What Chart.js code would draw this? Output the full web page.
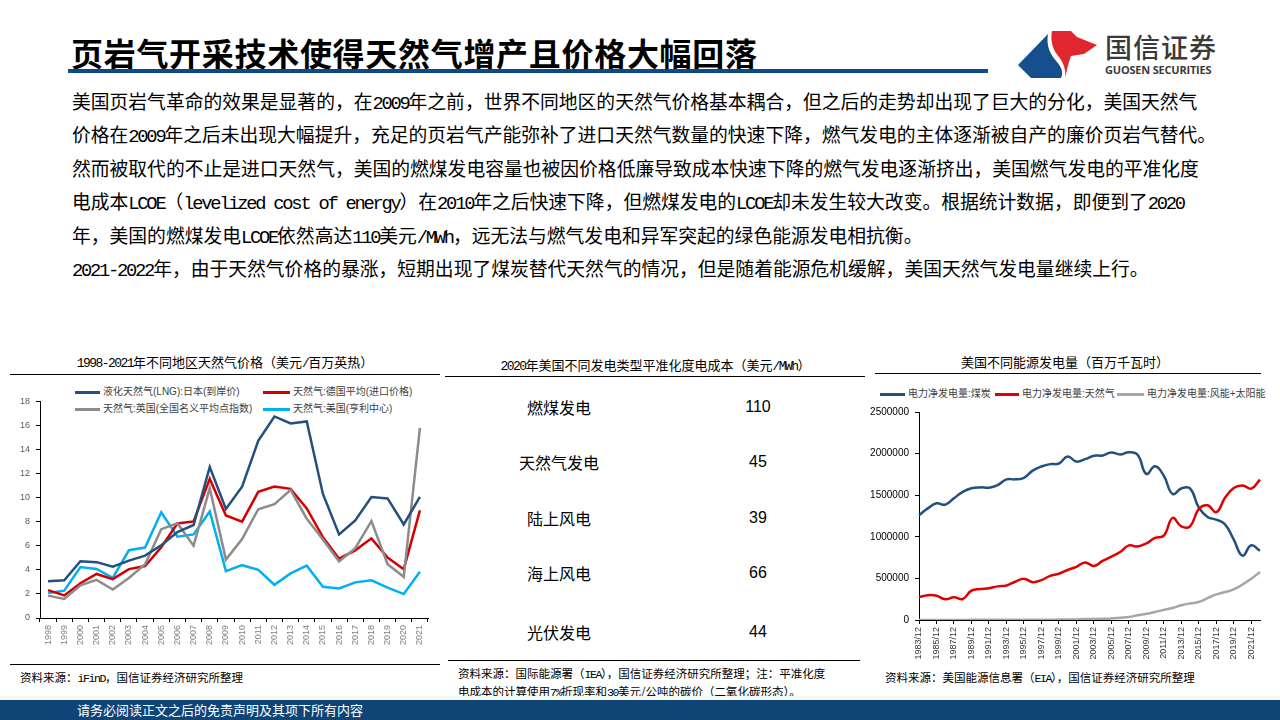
<!DOCTYPE html>
<html lang="zh-CN">
<head>
<meta charset="utf-8">
<title>页岩气开采技术使得天然气增产且价格大幅回落</title>
<script src="https://cdn.jsdelivr.net/npm/chart.js@4.4.1/dist/chart.umd.min.js"></script>
<style>
  html, body { margin: 0; padding: 0; background: #fff; }
  body { width: 1280px; height: 720px; position: relative; overflow: hidden;
         font-family: "Noto Sans CJK SC", sans-serif; color: #000; }
  .abs { position: absolute; white-space: nowrap; }
  .m { font-family: "Liberation Mono", monospace; letter-spacing: -0.12em; }
  .hr { position: absolute; height: 1px; background: #000; }
  .para div { height: 33.4px; line-height: 33.4px; font-size: 18.8px; white-space: nowrap; }
  .ctitle { position: absolute; font-size: 13px; line-height: 16px; text-align: center; white-space: nowrap; }
  .src { position: absolute; font-size: 11.5px; line-height: 16px; white-space: nowrap; }
  .legend { position: absolute; font-family: "Liberation Sans", "Noto Sans CJK SC", sans-serif;
            font-size: 10px; line-height: 14px; white-space: nowrap; }
  .legend .sw { position: absolute; height: 3px; }
  .legend .tx { position: absolute; }
  canvas { position: absolute; }
  .row { position: absolute; font-size: 16px; line-height: 20px; text-align: center; }
</style>
</head>
<body>

<div class="abs" style="left:71px; top:32px; font-size:32px; line-height:40px; font-weight:700; letter-spacing:0.7px;">页岩气开采技术使得天然气增产且价格大幅回落</div>
<div class="abs" style="left:68px; top:69px; width:920px; height:4px; background:#0e4a85;"></div>

<svg class="abs" style="left:0; top:0;" width="1280" height="90">
  <path d="M1018,65 L1048,34 C1046,46 1050,54 1057,62 C1063,69 1063,74 1061,78 L1031,78 Z" fill="#174f8e"/>
  <path d="M1052,31 L1071,31 L1077,37 L1097,45 L1084,54 L1071,56 C1068,63 1067,71 1065,78 C1066,70 1064,64 1059,57 C1053,50 1050,41 1052,31 Z" fill="#e0262f"/>
  <text x="1105" y="58" font-family="Noto Sans CJK SC" font-size="27" font-weight="500" fill="#3a3a3a" letter-spacing="1">国信证券</text>
  <text x="1105" y="74" font-family="Open Sans, Liberation Sans" font-size="11" font-weight="700" fill="#3a3a3a" letter-spacing="-0.2">GUOSEN SECURITIES</text>
</svg>

<div class="abs para" id="para" style="left:72px; top:84px;"></div>

<!-- left panel -->
<div class="ctitle" id="t1" style="left:10px; width:430px; top:354px;"></div>
<div class="hr" style="left:10px; top:374px; width:430px;"></div>
<div class="legend" id="leg1" style="left:0; top:0;"></div>
<canvas id="priceChart" width="425" height="272" style="left:10px; top:390px;"></canvas>
<div class="hr" style="left:10px; top:664px; width:430px;"></div>
<div class="src" style="left:20px; top:669px;">资料来源：<span class="m">iFinD</span>，国信证券经济研究所整理</div>

<!-- middle panel -->
<div class="ctitle" id="t2" style="left:448px; width:415px; top:357px;"></div>
<div class="hr" style="left:445px; top:376px; width:420px;"></div>
<div id="lcoeTable"></div>
<div class="hr" style="left:448px; top:660px; width:412px;"></div>
<div class="src" style="left:458px; top:665px; line-height:16px;">资料来源：国际能源署（<span class="m">IEA</span>），国信证券经济研究所整理；注：平准化度<br>电成本的计算使用<span class="m">7%</span>折现率和<span class="m">30</span>美元/公吨的碳价（二氧化碳形态）。</div>

<!-- right panel -->
<div class="ctitle" id="t3" style="left:870px; width:390px; top:354px;"></div>
<div class="hr" style="left:875px; top:373px; width:386px;"></div>
<div class="legend" id="leg3" style="left:0; top:0;"></div>
<canvas id="genChart" width="400" height="265" style="left:870px; top:400px;"></canvas>
<div class="src" style="left:885px; top:669px;">资料来源：美国能源信息署（<span class="m">EIA</span>），国信证券经济研究所整理</div>

<div class="abs" style="left:0; top:696px; width:1280px; height:4px; background:#f3f9ee;"></div>
<div class="abs" style="left:0; top:700px; width:1280px; height:20px; background:#0f4477;"></div>
<div class="abs" style="left:77px; top:701px; font-size:13px; line-height:18px; color:#fff;">请务必阅读正文之后的免责声明及其项下所有内容</div>

<script>
// ---- text ----
const paraLines = [
  "美国页岩气革命的效果是显著的，在2009年之前，世界不同地区的天然气价格基本耦合，但之后的走势却出现了巨大的分化，美国天然气",
  "价格在2009年之后未出现大幅提升，充足的页岩气产能弥补了进口天然气数量的快速下降，燃气发电的主体逐渐被自产的廉价页岩气替代。",
  "然而被取代的不止是进口天然气，美国的燃煤发电容量也被因价格低廉导致成本快速下降的燃气发电逐渐挤出，美国燃气发电的平准化度",
  "电成本LCOE（levelized cost of energy）在2010年之后快速下降，但燃煤发电的LCOE却未发生较大改变。根据统计数据，即便到了2020",
  "年，美国的燃煤发电LCOE依然高达110美元/MWh，远无法与燃气发电和异军突起的绿色能源发电相抗衡。",
  "2021-2022年，由于天然气价格的暴涨，短期出现了煤炭替代天然气的情况，但是随着能源危机缓解，美国天然气发电量继续上行。"
];
const priceTitle = "1998-2021年不同地区天然气价格（美元/百万英热）";
const lcoeTitle = "2020年美国不同发电类型平准化度电成本（美元/MWh）";
const genTitle = "美国不同能源发电量（百万千瓦时）";

// ---- chart 1: gas prices, USD/MMBtu ----
const priceYears = ["1998","1999","2000","2001","2002","2003","2004","2005","2006","2007","2008","2009",
                    "2010","2011","2012","2013","2014","2015","2016","2017","2018","2019","2020","2021"];
const lngJapan  = [3.05,3.14,4.72,4.64,4.27,4.77,5.18,6.05,7.14,7.73,12.55,9.06,10.91,14.73,16.75,16.17,16.33,10.31,6.94,8.10,10.05,9.94,7.77,10.07];
const germany   = [2.32,1.88,2.89,3.66,3.23,4.06,4.32,5.88,7.85,8.03,11.56,8.52,8.01,10.48,10.93,10.73,9.11,6.72,4.93,5.62,6.62,5.03,4.06,8.95];
const ukNbp     = [1.86,1.58,2.71,3.17,2.37,3.33,4.46,7.38,7.87,6.01,10.79,4.85,6.56,9.04,9.46,10.64,8.25,6.53,4.69,5.80,8.06,4.47,3.42,15.80];
const henryHub  = [2.08,2.27,4.23,4.07,3.33,5.63,5.85,8.79,6.76,6.95,8.85,3.89,4.39,4.01,2.76,3.71,4.35,2.60,2.46,2.96,3.13,2.53,1.99,3.84];
const priceNames = ["液化天然气(LNG):日本(到岸价)", "天然气:德国平均(进口价格)", "天然气:英国(全国名义平均点指数)", "天然气:美国(亨利中心)"];
const priceColors = ["#24507f", "#d40000", "#8c8c8c", "#00b0f0"];
const priceTicks = [0, 2, 4, 6, 8, 10, 12, 14, 16, 18];

// ---- table: LCOE 2020, USD/MWh ----
const lcoeTypes  = ["燃煤发电", "天然气发电", "陆上风电", "海上风电", "光伏发电"];
const lcoeValues = [110, 45, 39, 66, 44];

// ---- chart 3: US net generation, thousand MWh ----
const genYears = [];
for (let y = 1983; y <= 2022; y++) genYears.push(y + "/12");
const coalGen = [1259424,1341681,1402128,1385831,1463781,1540653,1583779,1594011,1590623,1621206,
                 1690070,1690694,1709426,1795196,1845016,1873516,1881087,1966265,1903956,1933130,
                 1973737,1978301,2012873,1990511,2016456,1985801,1755904,1847290,1733430,1514043,
                 1581115,1581710,1352398,1239149,1205835,1149487,964957,773393,897999,831512];
const gasGen  = [274098,297394,291946,248508,272621,252801,352566,372765,381553,404074,
                 414927,460219,496058,455056,479399,531257,556396,601038,639129,691006,
                 649908,710100,760960,816441,896590,882981,920979,987697,1013689,1225894,
                 1124836,1126609,1333482,1378307,1296442,1469133,1585814,1617453,1579190,1687067];
const windSolarGen = [0,0,0,0,0,0,2400,3000,3000,3000,
                 3000,3900,3700,3800,3800,3500,5000,6100,7300,11000,
                 11800,14700,18400,27100,35100,56200,74800,95900,122000,145100,
                 176900,199300,215600,263000,307600,336500,367800,427100,495000,578100];
const genNames  = ["电力净发电量:煤炭", "电力净发电量:天然气", "电力净发电量:风能+太阳能"];
const genColors = ["#24507f", "#e00000", "#a6a6a6"];

// wrap half-width latin runs so they render narrow like the original font
function monoWrap(s) {
  return s.replace(/[\x21-\x7e]+(?: [\x21-\x7e]+)*/g, m => `<span class="m">${m}</span>`);
}

document.getElementById("para").innerHTML = paraLines.map(l => `<div>${monoWrap(l)}</div>`).join("");
document.getElementById("t1").innerHTML = monoWrap(priceTitle);
document.getElementById("t2").innerHTML = monoWrap(lcoeTitle);
document.getElementById("t3").innerHTML = genTitle;

function buildLegend(el, names, colors, spots) {
  el.innerHTML = names.map((n, i) => {
    const s = spots[i];
    return `<div class="sw" style="left:${s.x}px; top:${s.y - 1}px; width:${s.w}px; background:${colors[i]}"></div>` +
           `<div class="tx" style="left:${s.x + s.w + 3}px; top:${s.y - 7}px; color:#404040">${n}</div>`;
  }).join("");
}
buildLegend(document.getElementById("leg1"), priceNames, priceColors, [
  { x: 75, y: 392, w: 25 }, { x: 263, y: 392, w: 27 }, { x: 75, y: 409, w: 25 }, { x: 263, y: 409, w: 27 }
]);
buildLegend(document.getElementById("leg3"), genNames, genColors, [
  { x: 880, y: 394, w: 25 }, { x: 995, y: 394, w: 24 }, { x: 1117, y: 394, w: 27 }
]);

const tableRowsY = [397, 452, 508, 563, 622];
document.getElementById("lcoeTable").innerHTML = lcoeTypes.map((t, i) =>
  `<div class="row" style="left:499px; width:120px; top:${tableRowsY[i]}px">${t}</div>` +
  `<div class="row" style="left:718px; width:80px; top:${tableRowsY[i]}px; font-family:'Liberation Sans','Noto Sans CJK SC'">${lcoeValues[i]}</div>`
).join("");

const Chart = window.Chart;
Chart.defaults.font.family = "'Liberation Sans', 'Noto Sans CJK SC', sans-serif";
Chart.defaults.animation = false;

function lineSet(label, data, color, width) {
  return { label, data, borderColor: color, backgroundColor: color, borderWidth: width,
           pointRadius: 0, fill: false };
}

new Chart(document.getElementById("priceChart").getContext("2d"), {
  type: "line",
  data: {
    labels: priceYears,
    datasets: [
      lineSet(priceNames[0], lngJapan, priceColors[0], 2.5),
      lineSet(priceNames[2], ukNbp, priceColors[2], 2.5),
      lineSet(priceNames[1], germany, priceColors[1], 2.5),
      lineSet(priceNames[3], henryHub, priceColors[3], 2.5),
    ],
  },
  options: {
    responsive: false,
    devicePixelRatio: 1,
    layout: { padding: { top: 9, right: 7, left: 0, bottom: 0 } },
    elements: { line: { tension: 0 } },
    plugins: { legend: { display: false }, tooltip: { enabled: false } },
    scales: {
      x: {
        offset: true,
        grid: { offset: true, drawOnChartArea: false, drawTicks: true, tickLength: 4, color: "#000" },
        border: { color: "#000" },
        ticks: { color: "#7f7f7f", font: { size: 9 }, minRotation: 90, maxRotation: 90, autoSkip: false, padding: 3 },
        afterFit: (s) => { s.height = 44; },
      },
      y: {
        min: 0, max: 18,
        afterBuildTicks: (s) => { s.ticks = priceTicks.map((v) => ({ value: v })); },
        grid: { drawOnChartArea: false, drawTicks: true, tickLength: 4, color: "#000" },
        border: { color: "#000" },
        ticks: { color: "#595959", font: { size: 9 }, padding: 6 },
        afterFit: (s) => { s.width = 30; },
      },
    },
  },
});

new Chart(document.getElementById("genChart").getContext("2d"), {
  type: "line",
  data: {
    labels: genYears,
    datasets: [
      lineSet(genNames[2], windSolarGen, genColors[2], 2.5),
      lineSet(genNames[1], gasGen, genColors[1], 2.5),
      lineSet(genNames[0], coalGen, genColors[0], 2.5),
    ],
  },
  options: {
    responsive: false,
    devicePixelRatio: 1,
    layout: { padding: { top: 12, right: 10, left: 0, bottom: 0 } },
    elements: { line: { tension: 0.45 } },
    plugins: { legend: { display: false }, tooltip: { enabled: false } },
    scales: {
      x: {
        offset: false,
        grid: { drawOnChartArea: false, drawTicks: true, tickLength: 4, color: "#000" },
        border: { color: "#000" },
        ticks: {
          color: "#333", font: { size: 9 }, minRotation: 90, maxRotation: 90, autoSkip: false, padding: 3,
          callback: function (v, i) { return i % 2 === 0 ? this.getLabelForValue(v) : null; },
        },
        afterFit: (s) => { s.height = 45; },
      },
      y: {
        min: 0, max: 2500000,
        ticks: { stepSize: 500000, color: "#000", font: { size: 10 }, padding: 6, callback: (v) => String(v) },
        grid: { drawOnChartArea: false, drawTicks: true, tickLength: 4, color: "#000" },
        border: { color: "#000" },
        afterFit: (s) => { s.width = 49; },
      },
    },
  },
});
</script>
</body>
</html>
